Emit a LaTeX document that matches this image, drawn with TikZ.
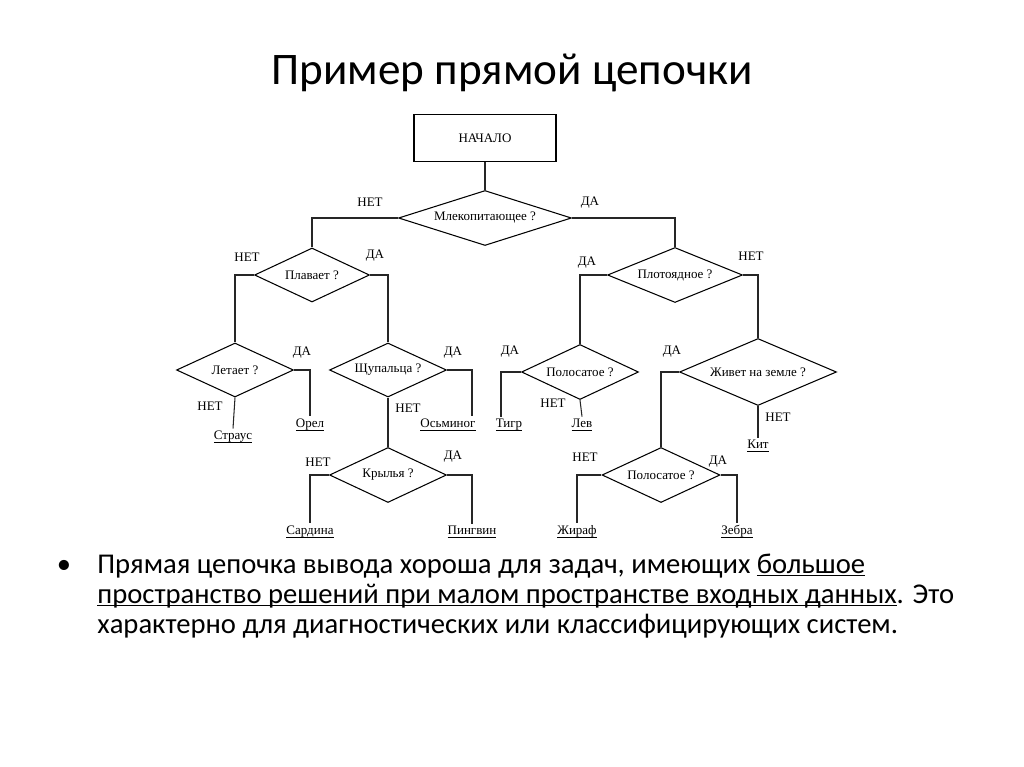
\documentclass[tikz,border=0pt]{standalone}
\usepackage{fontspec}
\setmainfont{Carlito}
\newfontfamily\tnr{Liberation Serif}
\usetikzlibrary{shapes.geometric}
\newcommand{\ulin}[1]{\underline{\raisebox{0pt}[\height][0pt]{#1}}}

\tikzset{
  startbox/.style={draw,line width=0.6pt,minimum width=2.84cm,minimum height=0.94cm,font=\tnr\fontsize{7.4}{8}\selectfont},
  question/.style={diamond,draw,line width=0.6pt,inner sep=0pt,font=\tnr\fontsize{7.4}{8}\selectfont},
  answer/.style={inner sep=0pt,font=\tnr\fontsize{7.4}{8}\selectfont},
  leaf/.style={inner sep=1.2pt,font=\tnr\fontsize{7.4}{8}\selectfont},
  link/.style={line width=0.6pt,draw=black!85},
  bullettext/.style={anchor=base west,inner sep=0pt,font=\fontsize{16.3}{19}\selectfont},
}

\begin{document}
\begin{tikzpicture}[x=0.02cm,y=-0.02cm]
\useasboundingbox (0,0) rectangle (1024,767);
%TITLE
\node [anchor=base,font=\fontsize{25.7}{30}\selectfont] (title) at (512,85) {Пример прямой цепочки};
%START AND QUESTIONS
\node [startbox] (start) at (485,138) {НАЧАЛО};
\node [question,aspect=3.15,minimum width=3.46cm,minimum height=1.1cm] (mammal) at (485,218) {Млекопитающее ?};
\node [question,aspect=2.13,minimum width=2.3cm,minimum height=1.08cm] (swims) at (312,275) {Плавает ?};
\node [question,aspect=2.45,minimum width=2.7cm,minimum height=1.1cm] (carniv) at (675,275) {Плотоядное ?};
\node [question,aspect=2.17,minimum width=2.34cm,minimum height=1.08cm] (flies) at (235,370) {Летает ?};
\node [question,aspect=2.17,minimum width=2.34cm,minimum height=1.08cm] (tentac) at (388,370) {Щупальца ?};
\node [question,aspect=2.13,minimum width=2.34cm,minimum height=1.1cm] (stripesA) at (580,372) {Полосатое ?};
\node [question,aspect=2.34,minimum width=3.14cm,minimum height=1.34cm] (land) at (758,372) {Живет на земле ?};
\node [question,aspect=2.13,minimum width=2.34cm,minimum height=1.1cm] (wings) at (388,475) {Крылья ?};
\node [question,aspect=2.13,minimum width=2.36cm,minimum height=1.1cm] (stripesB) at (661,475) {Полосатое ?};
%LEAVES
\node [leaf] (ostrich) at (233,437) {\ulin{Страус}};
\node [leaf] (eagle) at (310,425) {\ulin{Орел}};
\node [leaf] (octopus) at (448,425) {\ulin{Осьминог}};
\node [leaf] (tiger) at (509,425) {\ulin{Тигр}};
\node [leaf] (lion) at (582,425) {\ulin{Лев}};
\node [leaf] (whale) at (758,446) {\ulin{Кит}};
\node [leaf] (sardine) at (310,532) {\ulin{Сардина}};
\node [leaf] (penguin) at (472,532) {\ulin{Пингвин}};
\node [leaf] (giraffe) at (577,532) {\ulin{Жираф}};
\node [leaf] (zebra) at (737,532) {\ulin{Зебра}};
%YES / NO
\node [answer] (mammalN) at (370,202) {НЕТ};
\node [answer] (mammalY) at (590,203) {ДА};
\node [answer] (swimsN) at (247,257) {НЕТ};
\node [answer] (swimsY) at (375,256) {ДА};
\node [answer] (carnivY) at (587,263) {ДА};
\node [answer] (carnivN) at (751,256) {НЕТ};
\node [answer] (fliesY) at (302,353) {ДА};
\node [answer] (fliesN) at (210,406) {НЕТ};
\node [answer] (tentacY) at (453,353) {ДА};
\node [answer] (tentacN) at (408,408) {НЕТ};
\node [answer] (stripesAY) at (510,352) {ДА};
\node [answer] (stripesAN) at (553,403) {НЕТ};
\node [answer] (landY) at (672,352) {ДА};
\node [answer] (landN) at (778,417) {НЕТ};
\node [answer] (wingsN) at (318,462) {НЕТ};
\node [answer] (wingsY) at (453,457) {ДА};
\node [answer] (stripesBN) at (585,457) {НЕТ};
\node [answer] (stripesBY) at (718,462) {ДА};
%LINKS
\draw [link] (start.south) -- (mammal.north);
\draw [link] (mammal.west) -| (swims.north);
\draw [link] (mammal.east) -| (carniv.north);
\draw [link] (swims.west) -| (flies.north);
\draw [link] (swims.east) -| (tentac.north);
\draw [link] (flies.east) -| (eagle.north);
\draw [link] (flies.south) -- (ostrich.north);
\draw [link] (tentac.east) -| ([xshift=0.48cm]octopus.north);
\draw [link] (tentac.south) -- (wings.north);
\draw [link] (wings.west) -| (sardine.north);
\draw [link] (wings.east) -| (penguin.north);
\draw [link] (carniv.west) -| (stripesA.north);
\draw [link] (carniv.east) -| (land.north);
\draw [link] (stripesA.west) -| ([xshift=-0.16cm]tiger.north);
\draw [link] (stripesA.south) -- (lion.north);
\draw [link] (land.west) -| (stripesB.north);
\draw [link] (land.south) -- (whale.north);
\draw [link] (stripesB.west) -| (giraffe.north);
\draw [link] (stripesB.east) -| (zebra.north);
%BULLET TEXT
\node [font=\fontsize{16.3}{19}\selectfont] (dot) at (64,567) {•};
\node [bullettext] (lineA) at (97,573) {Прямая цепочка вывода хороша для задач, имеющих \ulin{большое}};
\node [bullettext] (lineB) at (97,603) {\ulin{пространство решений при малом пространстве входных данных}. Это};
\node [bullettext] (lineC) at (97,633) {характерно для диагностических или классифицирующих систем.};
\end{tikzpicture}
\end{document}
